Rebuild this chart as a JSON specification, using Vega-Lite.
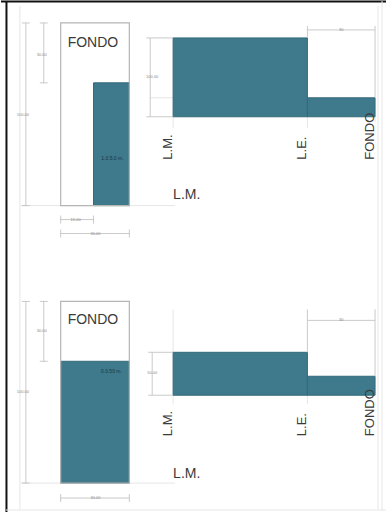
{
  "$schema": "https://vega.github.io/schema/vega-lite/v6.json",
  "width": 387,
  "height": 513,
  "autosize": {"type": "fit", "contains": "padding"},
  "padding": 0,
  "background": "white",
  "config": {"view": {"stroke": null}},
  "datasets": {
    "fills": [
      {"x": 93, "x2": 129, "y": 83, "y2": 206},
      {"x": 173, "x2": 308, "y": 38, "y2": 117},
      {"x": 308, "x2": 376, "y": 98, "y2": 117},
      {"x": 60, "x2": 129, "y": 362, "y2": 484},
      {"x": 173, "x2": 308, "y": 353, "y2": 396},
      {"x": 308, "x2": 376, "y": 377, "y2": 396}
    ],
    "outlines": [
      {"x": 60, "x2": 129, "y": 23, "y2": 206},
      {"x": 60, "x2": 129, "y": 302, "y2": 484}
    ],
    "dims": [
      {"x": 25, "x2": 25, "y": 23, "y2": 206},
      {"x": 21, "x2": 29, "y": 23, "y2": 23},
      {"x": 21, "x2": 29, "y": 206, "y2": 206},
      {"x": 43, "x2": 43, "y": 23, "y2": 83},
      {"x": 39, "x2": 47, "y": 23, "y2": 23},
      {"x": 39, "x2": 47, "y": 83, "y2": 83},
      {"x": 60, "x2": 93, "y": 220, "y2": 220},
      {"x": 60, "x2": 60, "y": 216, "y2": 224},
      {"x": 93, "x2": 93, "y": 216, "y2": 224},
      {"x": 60, "x2": 129, "y": 234, "y2": 234},
      {"x": 60, "x2": 60, "y": 230, "y2": 238},
      {"x": 129, "x2": 129, "y": 230, "y2": 238},
      {"x": 150, "x2": 150, "y": 38, "y2": 117},
      {"x": 146, "x2": 173, "y": 38, "y2": 38},
      {"x": 146, "x2": 173, "y": 117, "y2": 117},
      {"x": 308, "x2": 376, "y": 30, "y2": 30},
      {"x": 308, "x2": 308, "y": 26, "y2": 38},
      {"x": 376, "x2": 376, "y": 26, "y2": 98},
      {"x": 25, "x2": 25, "y": 302, "y2": 484},
      {"x": 21, "x2": 29, "y": 302, "y2": 302},
      {"x": 21, "x2": 29, "y": 484, "y2": 484},
      {"x": 43, "x2": 43, "y": 302, "y2": 362},
      {"x": 39, "x2": 47, "y": 302, "y2": 302},
      {"x": 39, "x2": 47, "y": 362, "y2": 362},
      {"x": 60, "x2": 129, "y": 499, "y2": 499},
      {"x": 60, "x2": 60, "y": 495, "y2": 503},
      {"x": 129, "x2": 129, "y": 495, "y2": 503},
      {"x": 152, "x2": 152, "y": 353, "y2": 396},
      {"x": 148, "x2": 173, "y": 353, "y2": 353},
      {"x": 148, "x2": 173, "y": 396, "y2": 396},
      {"x": 308, "x2": 376, "y": 321, "y2": 321},
      {"x": 308, "x2": 308, "y": 310, "y2": 353},
      {"x": 376, "x2": 376, "y": 310, "y2": 377}
    ],
    "guides": [
      {"x": 20, "x2": 175, "y": 206, "y2": 206},
      {"x": 20, "x2": 175, "y": 484, "y2": 484},
      {"x": 150, "x2": 173, "y": 98, "y2": 98},
      {"x": 173, "x2": 173, "y": 117, "y2": 128},
      {"x": 308, "x2": 308, "y": 117, "y2": 128},
      {"x": 376, "x2": 376, "y": 117, "y2": 122},
      {"x": 173, "x2": 173, "y": 310, "y2": 353},
      {"x": 173, "x2": 173, "y": 396, "y2": 405},
      {"x": 308, "x2": 308, "y": 396, "y2": 405},
      {"x": 19, "x2": 19, "y": 6, "y2": 510},
      {"x": 379, "x2": 379, "y": 6, "y2": 510},
      {"x": 383, "x2": 383, "y": 1, "y2": 512},
      {"x": 5, "x2": 387, "y": 511, "y2": 511}
    ],
    "frame": [
      {"x": 0, "x2": 387, "y": 1.5, "y2": 1.5},
      {"x": 5.5, "x2": 5.5, "y": 1, "y2": 513}
    ],
    "titles": [
      {"x": 67, "y": 43, "label": "FONDO"},
      {"x": 67, "y": 321, "label": "FONDO"},
      {"x": 173, "y": 195, "label": "L.M."},
      {"x": 173, "y": 475, "label": "L.M."}
    ],
    "vlabels": [
      {"x": 172, "y": 160, "label": "L.M."},
      {"x": 307, "y": 160, "label": "L.E."},
      {"x": 375, "y": 160, "label": "FONDO"},
      {"x": 172, "y": 437, "label": "L.M."},
      {"x": 307, "y": 437, "label": "L.E."},
      {"x": 375, "y": 437, "label": "FONDO"}
    ],
    "dimlabels": [
      {"x": 22, "y": 115, "label": "100.00"},
      {"x": 41, "y": 55, "label": "30.00"},
      {"x": 75, "y": 220, "label": "15.00"},
      {"x": 95, "y": 234, "label": "30.00"},
      {"x": 152, "y": 77, "label": "100.00"},
      {"x": 342, "y": 30, "label": "30"},
      {"x": 22, "y": 393, "label": "100.00"},
      {"x": 41, "y": 332, "label": "30.00"},
      {"x": 95, "y": 499, "label": "30.00"},
      {"x": 152, "y": 374, "label": "50.00"},
      {"x": 342, "y": 321, "label": "30"}
    ],
    "filllabels": [
      {"x": 112, "y": 158, "label": "1.0.5.0 m."},
      {"x": 111, "y": 372, "label": "0.0.50 m."}
    ]
  },
  "layer": [
    {
      "data": {"name": "frame"},
      "mark": {"type": "rule", "color": "#111111", "strokeWidth": 2},
      "encoding": {
        "x": {"field": "x", "type": "quantitative", "scale": {"domain": [0, 387], "nice": false, "zero": false}, "axis": null},
        "x2": {"field": "x2"},
        "y": {"field": "y", "type": "quantitative", "scale": {"domain": [0, 513], "nice": false, "zero": false, "reverse": true}, "axis": null},
        "y2": {"field": "y2"}
      }
    },
    {
      "data": {"name": "guides"},
      "mark": {"type": "rule", "color": "#e6e6e6", "strokeWidth": 1},
      "encoding": {
        "x": {"field": "x", "type": "quantitative", "axis": null},
        "x2": {"field": "x2"},
        "y": {"field": "y", "type": "quantitative", "axis": null},
        "y2": {"field": "y2"}
      }
    },
    {
      "data": {"name": "fills"},
      "mark": {"type": "rect", "color": "#3e7a8c", "stroke": "#34697a", "strokeWidth": 1},
      "encoding": {
        "x": {"field": "x", "type": "quantitative", "axis": null},
        "x2": {"field": "x2"},
        "y": {"field": "y", "type": "quantitative", "axis": null},
        "y2": {"field": "y2"}
      }
    },
    {
      "data": {"name": "outlines"},
      "mark": {"type": "rect", "fill": null, "stroke": "#b5b5b5", "strokeWidth": 1.2},
      "encoding": {
        "x": {"field": "x", "type": "quantitative", "axis": null},
        "x2": {"field": "x2"},
        "y": {"field": "y", "type": "quantitative", "axis": null},
        "y2": {"field": "y2"}
      }
    },
    {
      "data": {"name": "dims"},
      "mark": {"type": "rule", "color": "#bdbdbd", "strokeWidth": 0.8},
      "encoding": {
        "x": {"field": "x", "type": "quantitative", "axis": null},
        "x2": {"field": "x2"},
        "y": {"field": "y", "type": "quantitative", "axis": null},
        "y2": {"field": "y2"}
      }
    },
    {
      "data": {"name": "titles"},
      "mark": {"type": "text", "align": "left", "baseline": "middle", "fontSize": 14, "font": "Liberation Sans", "color": "#3a3a3a"},
      "encoding": {
        "x": {"field": "x", "type": "quantitative", "axis": null},
        "y": {"field": "y", "type": "quantitative", "axis": null},
        "text": {"field": "label"}
      }
    },
    {
      "data": {"name": "vlabels"},
      "mark": {"type": "text", "align": "left", "baseline": "alphabetic", "angle": 270, "fontSize": 13, "font": "Liberation Sans", "color": "#3a3a3a"},
      "encoding": {
        "x": {"field": "x", "type": "quantitative", "axis": null},
        "y": {"field": "y", "type": "quantitative", "axis": null},
        "text": {"field": "label"}
      }
    },
    {
      "data": {"name": "dimlabels"},
      "mark": {"type": "text", "align": "center", "baseline": "middle", "fontSize": 4, "font": "Liberation Sans", "color": "#888888"},
      "encoding": {
        "x": {"field": "x", "type": "quantitative", "axis": null},
        "y": {"field": "y", "type": "quantitative", "axis": null},
        "text": {"field": "label"}
      }
    },
    {
      "data": {"name": "filllabels"},
      "mark": {"type": "text", "align": "center", "baseline": "middle", "fontSize": 5, "font": "Liberation Sans", "color": "#1d3440"},
      "encoding": {
        "x": {"field": "x", "type": "quantitative", "axis": null},
        "y": {"field": "y", "type": "quantitative", "axis": null},
        "text": {"field": "label"}
      }
    }
  ]
}
